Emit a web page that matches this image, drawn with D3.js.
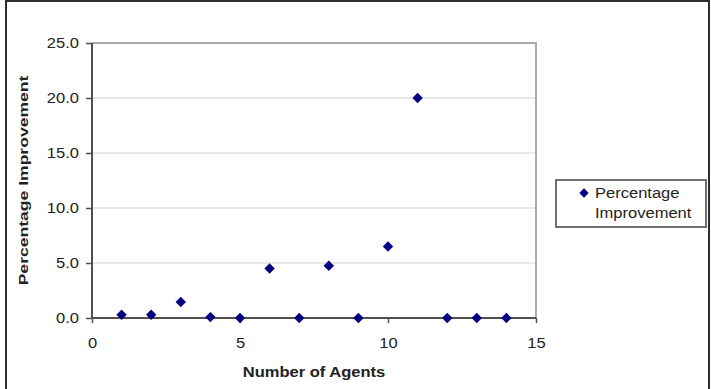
<!DOCTYPE html>
<html>
<head>
<meta charset="utf-8">
<script src="https://cdn.jsdelivr.net/npm/d3@7"></script>
<style>
  body { margin: 0; background: #fff; }
  text { font-family: Arial, "Liberation Sans", sans-serif; fill: #222; }
</style>
</head>
<body>
<div id="chart"></div>
<script>
// data
let agents = [1, 2, 3, 4, 5, 6, 7, 8, 9, 10, 11, 12, 13, 14];
let improvement = [0.3, 0.3, 1.45, 0.08, 0.0, 4.5, 0.0, 4.75, 0.0, 6.5, 20.0, 0.0, 0.0, 0.0];
let xTicks = [0, 5, 10, 15];
let yTicks = [0, 5, 10, 15, 20, 25];
let seriesName = ['Percentage', 'Improvement'];

let width = 711, height = 389;
let plot = {left: 92, right: 536, top: 43, bottom: 318};

let svg = d3.select('#chart').append('svg').attr('width', width).attr('height', height);

let x = d3.scaleLinear().domain([0, 15]).range([plot.left, plot.right]);
let y = d3.scaleLinear().domain([0, 25]).range([plot.bottom, plot.top]);

// the source text is a bit wider than Arial
function widen(sel, k = 1.18) {
    sel.each(function() {
        let len = this.getComputedTextLength();
        d3.select(this).attr('textLength', len * k).attr('lengthAdjust', 'spacingAndGlyphs');
    });
}

// outer frame
svg.append('rect')
    .attr('x', 6).attr('y', 1)
    .attr('width', 703).attr('height', 420)
    .attr('fill', 'none').attr('stroke', '#2e2e2e').attr('stroke-width', 2);

// gridlines
svg.append('g').selectAll('line')
    .data(yTicks.filter(t => t > 0 && t < 25))
    .join('line')
    .attr('x1', plot.left).attr('x2', plot.right)
    .attr('y1', d => y(d)).attr('y2', d => y(d))
    .attr('stroke', '#d2d2d2').attr('stroke-width', 1.2);

// plot frame top and right
svg.append('path')
    .attr('d', `M${plot.left},${y(25)}H${x(15)}V${plot.bottom}`)
    .attr('fill', 'none').attr('stroke', '#ababab').attr('stroke-width', 2);

// axes
let yAxis = svg.append('g')
    .attr('transform', `translate(${plot.left},0)`)
    .call(d3.axisLeft(y).tickValues(yTicks).tickFormat(d3.format('.1f')).tickSize(6).tickPadding(7));
let xAxis = svg.append('g')
    .attr('transform', `translate(0,${plot.bottom})`)
    .call(d3.axisBottom(x).tickValues(xTicks).tickSize(5).tickPadding(15));

[xAxis, yAxis].forEach(ax => {
    ax.select('.domain').attr('stroke', '#505050').attr('stroke-width', 2);
    ax.selectAll('.tick line').attr('stroke', '#505050').attr('stroke-width', 1.5);
    ax.selectAll('.tick text')
        .attr('font-size', 14)
        .attr('font-family', 'Arial, "Liberation Sans", sans-serif')
        .attr('fill', '#2a2a2a')
        .call(widen);
});
xAxis.select('.domain').attr('d', `M${plot.left},0H${plot.right}`);
yAxis.select('.domain').attr('d', `M0,${plot.bottom}V${plot.top}`);

// axis titles
svg.append('text')
    .attr('x', (plot.left + plot.right) / 2).attr('y', 377)
    .attr('text-anchor', 'middle')
    .attr('font-size', 14).attr('font-weight', 'bold')
    .text('Number of Agents')
    .call(widen);

svg.append('text')
    .attr('transform', `translate(28,${(plot.top + plot.bottom) / 2}) rotate(-90)`)
    .attr('text-anchor', 'middle')
    .attr('font-size', 13.5).attr('font-weight', 'bold')
    .text('Percentage Improvement')
    .call(widen, 1.3);

// markers
let diamond = d3.symbol().type(d3.symbolSquare).size(54);
svg.append('g').selectAll('path')
    .data(agents.map((a, i) => [a, improvement[i]]))
    .join('path')
    .attr('d', diamond)
    .attr('transform', d => `translate(${x(d[0])},${y(d[1])}) rotate(45)`)
    .attr('fill', '#000080');

// legend
let legend = svg.append('g');
legend.append('rect')
    .attr('x', 556).attr('y', 180).attr('width', 150).attr('height', 47)
    .attr('fill', '#fff').attr('stroke', '#707070').attr('stroke-width', 2);
legend.append('path')
    .attr('d', d3.symbol().type(d3.symbolSquare).size(44))
    .attr('transform', 'translate(584,193) rotate(45)')
    .attr('fill', '#000080');
legend.selectAll('text.lab')
    .data(seriesName)
    .join('text')
    .attr('class', 'lab')
    .attr('x', 595).attr('y', (d, i) => 198 + i * 20)
    .attr('font-size', 14)
    .text(d => d)
    .call(widen);
</script>
</body>
</html>
